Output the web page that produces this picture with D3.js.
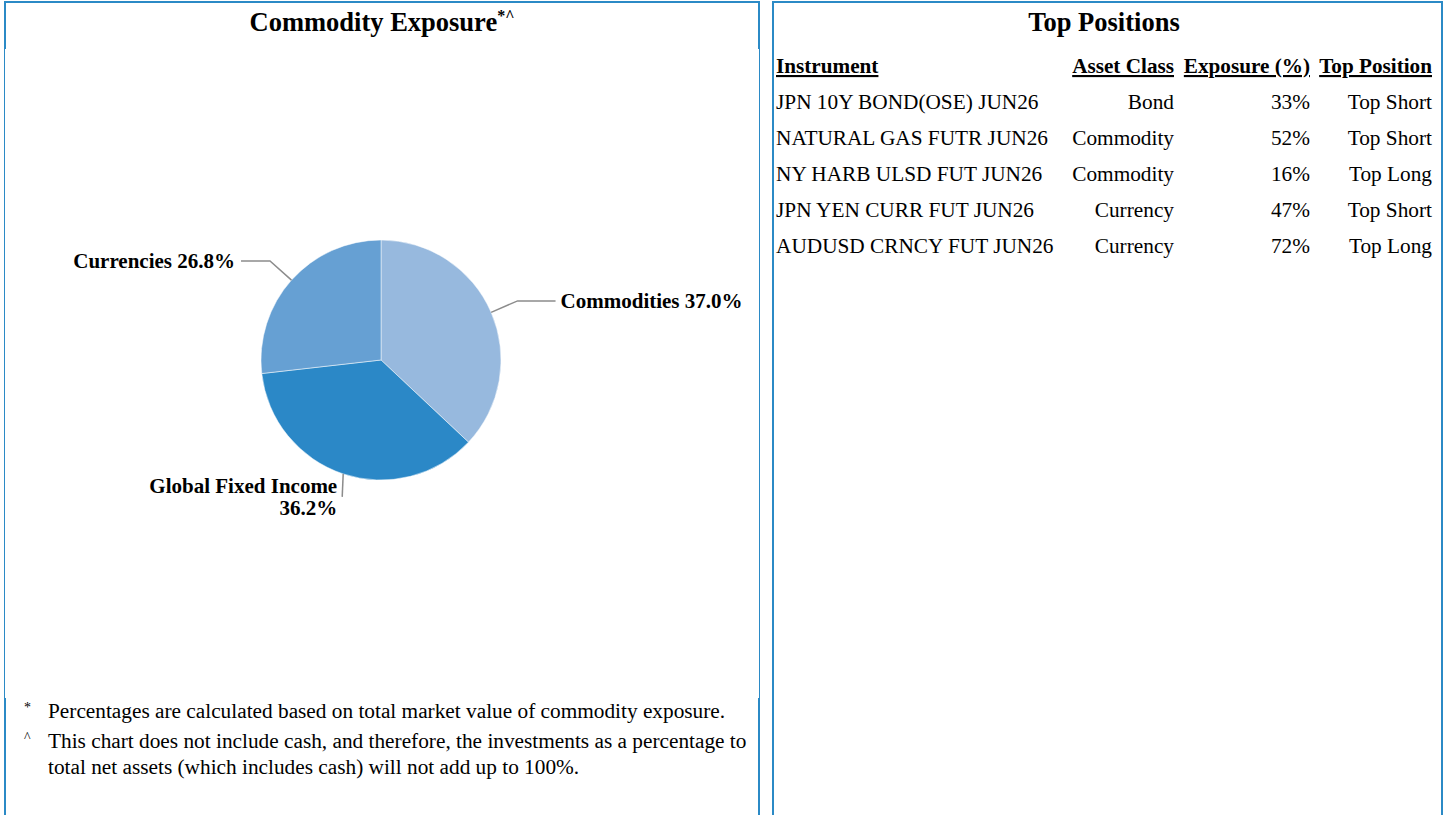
<!DOCTYPE html>
<html>
<head>
<meta charset="utf-8">
<script src="https://cdn.jsdelivr.net/npm/d3@7"></script>
<style>
  body { margin: 0; background: #fff; font-family: "Liberation Serif", "Times New Roman", serif; }
  svg text { font-family: "Liberation Serif", "Times New Roman", serif; }
</style>
</head>
<body>
<div id="chart"></div>
<script>
// pie data
const sliceNames = ["Commodities", "Global Fixed Income", "Currencies"];
const sliceValues = [37.0, 36.2, 26.8];
const sliceColors = ["#97b9de", "#2b88c7", "#66a0d3"];

// table data
const tableHeaders = ["Instrument", "Asset Class", "Exposure (%)", "Top Position"];
const instruments = ["JPN 10Y BOND(OSE) JUN26", "NATURAL GAS FUTR JUN26", "NY HARB ULSD FUT JUN26", "JPN YEN CURR FUT JUN26", "AUDUSD CRNCY FUT JUN26"];
const assetClasses = ["Bond", "Commodity", "Commodity", "Currency", "Currency"];
const exposures = [33, 52, 16, 47, 72];
const topPositions = ["Top Short", "Top Short", "Top Long", "Top Short", "Top Long"];

const footnoteMarks = ["*", "^"];
const footnotes = [
    ["Percentages are calculated based on total market value of commodity exposure."],
    ["This chart does not include cash, and therefore, the investments as a percentage to",
     "total net assets (which includes cash) will not add up to 100%."]
];

const W = 1445, H = 815;
const blue = "#2b8ac6";

const svg = d3.select("#chart")
    .append("svg")
    .attr("width", W)
    .attr("height", H);

// panel borders
function seg(x1, y1, x2, y2, w) {
    svg.append("line")
        .attr("x1", x1).attr("y1", y1).attr("x2", x2).attr("y2", y2)
        .attr("stroke", blue).attr("stroke-width", w);
}
// left panel
seg(4, 2, 760, 2, 2);
seg(5, 1, 5, 49, 2);
seg(4.5, 49, 4.5, 698, 1);
seg(5, 698, 5, H, 2);
seg(759, 1, 759, 49, 2);
seg(759.5, 49, 759.5, 698, 1);
seg(759, 698, 759, H, 2);
// right panel
seg(772, 2, 1443, 2, 2);
seg(773, 1, 773, H, 2);
seg(1442, 1, 1442, H, 2);

// titles
svg.append("text")
    .attr("x", 382).attr("y", 31)
    .attr("text-anchor", "middle")
    .style("font-size", "26.5px").style("font-weight", "bold")
    .text("Commodity Exposure")
    .append("tspan")
    .attr("dy", -10)
    .style("font-size", "16px")
    .text("*^");

svg.append("text")
    .attr("x", 1104).attr("y", 31)
    .attr("text-anchor", "middle")
    .style("font-size", "26.5px").style("font-weight", "bold")
    .text("Top Positions");

// pie
const cx = 381, cy = 360, r = 120;
const pie = d3.pie().sort(null).value(d => d);
const arcs = pie(sliceValues);
const arc = d3.arc().innerRadius(0).outerRadius(r);

const g = svg.append("g").attr("transform", `translate(${cx},${cy})`);

g.selectAll("path.slice")
    .data(arcs)
    .enter()
    .append("path")
    .attr("class", "slice")
    .attr("d", arc)
    .attr("fill", (d, i) => sliceColors[i])
    .attr("stroke", "#fff")
    .attr("stroke-width", 0.5);

// leader lines + labels
function pt(a, rad) { return [Math.sin(a) * rad, -Math.cos(a) * rad]; }

arcs.forEach((d, i) => {
    const mid = (d.startAngle + d.endAngle) / 2;
    const p0 = pt(mid, r);
    const label = sliceNames[i] + " " + sliceValues[i].toFixed(1) + "%";
    let pts, tx, ty, anchor;
    if (Math.abs(Math.cos(mid)) > 0.85 && Math.cos(mid) < 0) {
        // bottom label: straight down, text to the left
        const p1 = [p0[0] - 1, p0[1] + 23];
        pts = [p0, p1];
        tx = p1[0] - 5; ty = p1[1] - 4; anchor = "end";
        const t = g.append("text")
            .attr("x", tx).attr("y", ty)
            .attr("text-anchor", anchor)
            .style("font-size", "21px").style("font-weight", "bold");
        t.append("tspan").attr("x", tx).attr("dy", 0).text(sliceNames[i]);
        t.append("tspan").attr("x", tx).attr("dy", 22).text(sliceValues[i].toFixed(1) + "%");
    } else {
        const p1 = pt(mid, r * 1.24);
        const right = Math.sin(mid) > 0;
        const p2 = [p1[0] + (right ? 38 : -29), p1[1]];
        pts = [p0, p1, p2];
        tx = p2[0] + (right ? 5 : -6); ty = p2[1] + 7; anchor = right ? "start" : "end";
        g.append("text")
            .attr("x", tx).attr("y", ty)
            .attr("text-anchor", anchor)
            .style("font-size", "21px").style("font-weight", "bold")
            .text(label);
    }
    g.append("path")
        .attr("d", d3.line()(pts))
        .attr("fill", "none")
        .attr("stroke", "#8c8c8c")
        .attr("stroke-width", 1.5);
});

// footnotes
let fy = 718;
footnotes.forEach((lines, i) => {
    svg.append("text")
        .attr("x", 24).attr("y", fy - 6)
        .style("font-size", "14px")
        .text(footnoteMarks[i]);
    lines.forEach((ln, j) => {
        svg.append("text")
            .attr("x", 48).attr("y", fy)
            .style("font-size", "21.3px")
            .text(ln);
        fy += 26;
    });
    fy += 4;
});

// table
const colX = [776, 1174, 1310, 1432];
const colAnchor = ["start", "end", "end", "end"];
const rowY = d3.range(instruments.length).map(i => 109 + i * 36);

const hdr = svg.append("g");
tableHeaders.forEach((h, j) => {
    hdr.append("text")
        .attr("x", colX[j]).attr("y", 73)
        .attr("text-anchor", colAnchor[j])
        .style("font-size", "21.2px").style("font-weight", "bold")
        .style("text-decoration", "underline")
        .text(h);
});

const rows = instruments.map((d, i) => [d, assetClasses[i], exposures[i] + "%", topPositions[i]]);
const rowG = svg.selectAll("g.row")
    .data(rows)
    .enter()
    .append("g")
    .attr("class", "row")
    .attr("transform", (d, i) => `translate(0,${rowY[i]})`);

rowG.selectAll("text")
    .data(d => d)
    .enter()
    .append("text")
    .attr("x", (d, j) => colX[j])
    .attr("text-anchor", (d, j) => colAnchor[j])
    .style("font-size", "21.3px")
    .text(d => d);
</script>
</body>
</html>
